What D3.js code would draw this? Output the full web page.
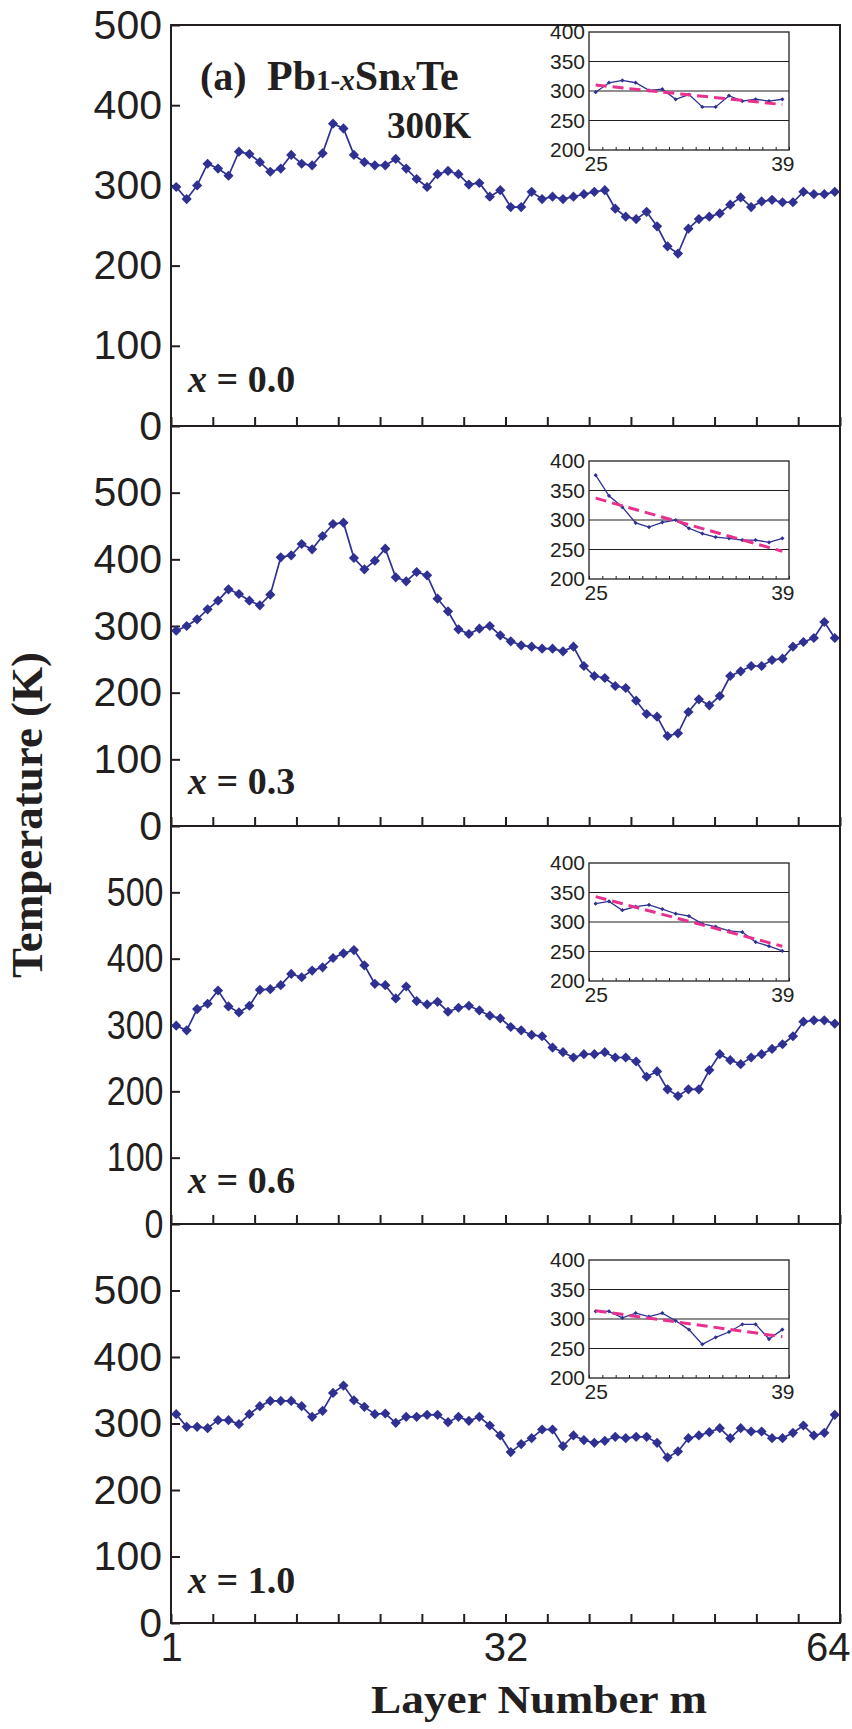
<!DOCTYPE html>
<html>
<head>
<meta charset="utf-8">
<script src="https://cdn.jsdelivr.net/npm/d3@7"></script>
<style>
  body { margin: 0; background: #fff; }
  svg { display: block; }
  .serif { font-family: "Liberation Serif", "Times New Roman", serif; font-weight: bold; fill: #231f20; }
  .sans { font-family: "Liberation Sans", Arial, sans-serif; fill: #231f20; }
</style>
</head>
<body>
<div id="chart"></div>
<script>
// layer numbers (categories) and temperatures
const layers = d3.range(1, 65);
const compositions = ["0.0", "0.3", "0.6", "1.0"];

const tempX00 = [298, 283, 300, 327, 321, 312, 342, 339, 329, 317,
                 321, 338, 327, 325, 340, 377, 371, 338, 329, 325,
                 325, 333, 321, 308, 298, 314, 318, 314, 301, 303,
                 286, 294, 273, 273, 292, 283, 286, 283, 286, 289,
                 292, 294, 271, 261, 258, 267, 249, 224, 215, 246,
                 258, 261, 265, 276, 285, 273, 280, 282, 279, 279,
                 292, 289, 289, 292];
const tempX03 = [293, 300, 310, 325, 338, 355, 348, 338, 331, 347,
                 403, 406, 423, 415, 435, 453, 455, 402, 385, 398,
                 416, 373, 367, 381, 376, 341, 322, 295, 288, 296,
                 300, 286, 277, 271, 269, 266, 266, 262, 269, 240,
                 225, 222, 210, 207, 188, 168, 164, 135, 139, 171,
                 190, 181, 195, 225, 232, 240, 240, 249, 251, 269,
                 276, 282, 306, 282];
const tempX06 = [299, 292, 324, 332, 352, 328, 319, 329, 353, 354,
                 360, 377, 372, 382, 387, 401, 408, 413, 390, 362,
                 360, 340, 358, 336, 331, 335, 320, 326, 329, 322,
                 314, 310, 297, 292, 285, 283, 266, 259, 251, 256,
                 256, 259, 251, 251, 245, 222, 230, 203, 193, 203,
                 203, 232, 256, 247, 241, 251, 256, 264, 271, 283,
                 305, 307, 307, 302];
const tempX10 = [314, 295, 295, 293, 305, 305, 299, 314, 326, 334,
                 334, 334, 326, 310, 319, 346, 357, 335, 325, 314,
                 315, 301, 310, 310, 313, 313, 302, 310, 304, 310,
                 297, 282, 257, 269, 278, 291, 291, 266, 282, 275,
                 271, 274, 280, 278, 280, 280, 271, 249, 258, 278,
                 282, 287, 293, 278, 293, 288, 288, 278, 278, 286,
                 297, 282, 286, 313];

// inset: layers 25-39 with linear trend (values at both ends)
const insetLayers = [25, 39];
const trendStart = [310, 337, 343, 314];
const trendEnd = [277, 247, 259, 270];

const yTicksMain = [0, 100, 200, 300, 400, 500];
const yTicksInset = [200, 250, 300, 350, 400];
const xTickLabels = ["1", "32", "64"];

const series = [tempX00, tempX03, tempX06, tempX10];

// layout
const width = 852, height = 1729;
const left = 171, right = 840;
const panelTop = [25, 426, 826, 1224];
const panelBottom = [426, 826, 1224, 1623];
const panelMax = [500, 600, 600, 600];
const insetTop = [32, 461, 863, 1260];
const insetLeft = 589, insetW = 200, insetH = 118;
const labelBase = [392, 794, 1193, 1593];
const labelStretch = [1, 1, 0.83, 1];
const navy = "#2e3192", pink = "#e8318e", ink = "#231f20";

const svg = d3.select("#chart").append("svg")
  .attr("width", width)
  .attr("height", height);

const x = d3.scaleLinear().domain([0.5, 64.5]).range([left, right]);
const ix = d3.scaleLinear().domain([insetLayers[0] - 0.5, insetLayers[1] + 0.5]).range([0, insetW]);
const iy = d3.scaleLinear().domain([200, 400]).range([insetH, 0]);

series.forEach((temps, p) => {
  const y = d3.scaleLinear().domain([0, panelMax[p]]).range([panelBottom[p], panelTop[p]]);
  const rows = layers.map((m, i) => ({m: m, t: temps[i]}));
  const g = svg.append("g");

  //y axis, ticks pointing inward
  const ya = g.append("g")
    .attr("transform", "translate(" + left + ",0)")
    .call(d3.axisLeft(y).tickValues(yTicksMain).tickSize(-9).tickPadding(9));
  ya.select(".domain").remove();
  ya.selectAll(".tick line").attr("stroke", ink).attr("stroke-width", 2);
  ya.selectAll(".tick text")
    .attr("class", "sans")
    .style("font-size", "41px")
    .attr("transform", "scale(" + labelStretch[p] + ",1)");

  //x ticks every 4 layers
  const xa = g.append("g")
    .attr("transform", "translate(0," + panelBottom[p] + ")")
    .call(d3.axisBottom(x).tickValues(d3.range(0.5, 65, 4)).tickSize(-9).tickFormat(""));
  xa.select(".domain").remove();
  xa.selectAll(".tick line").attr("stroke", ink).attr("stroke-width", 2);

  //frame
  g.append("rect")
    .attr("x", left).attr("y", panelTop[p])
    .attr("width", right - left).attr("height", panelBottom[p] - panelTop[p])
    .attr("fill", "none").attr("stroke", ink).attr("stroke-width", 2);

  //data
  g.append("path")
    .datum(rows)
    .attr("d", d3.line().x(d => x(d.m)).y(d => y(d.t)))
    .attr("fill", "none").attr("stroke", navy).attr("stroke-width", 1.7);
  g.selectAll(".pt").data(rows).enter().append("path")
    .attr("class", "pt")
    .attr("transform", d => "translate(" + x(d.m) + "," + y(d.t) + ") rotate(45)")
    .attr("d", d3.symbol(d3.symbolSquare, 52))
    .attr("fill", navy);

  //composition label
  const lab = g.append("text").attr("class", "serif")
    .attr("x", 188).attr("y", labelBase[p])
    .style("font-size", "38px");
  lab.append("tspan").style("font-style", "italic").text("x");
  lab.append("tspan").text(" = " + compositions[p]);

  //inset
  const ig = svg.append("g").attr("transform", "translate(" + insetLeft + "," + insetTop[p] + ")");
  const slice = rows.filter(d => d.m >= insetLayers[0] && d.m <= insetLayers[1]);

  ig.append("rect").attr("width", insetW).attr("height", insetH).attr("fill", "#fff");
  ig.selectAll(".grid").data([250, 300, 350]).enter().append("line")
    .attr("x1", 0).attr("x2", insetW)
    .attr("y1", d => iy(d)).attr("y2", d => iy(d))
    .attr("stroke", ink).attr("stroke-width", 1.2);

  const iya = ig.append("g").call(d3.axisLeft(iy).tickValues(yTicksInset).tickSize(0).tickPadding(4));
  iya.select(".domain").remove();
  iya.selectAll(".tick text").attr("class", "sans").style("font-size", "21px");

  const ixa = ig.append("g").attr("transform", "translate(0," + insetH + ")")
    .call(d3.axisBottom(ix).tickValues(d3.range(insetLayers[0] - 0.5, insetLayers[1] + 1, 1)).tickSize(-3).tickFormat(""));
  ixa.select(".domain").remove();
  ixa.selectAll(".tick line").attr("stroke", ink).attr("stroke-width", 1);

  const ixl = ig.append("g").attr("transform", "translate(0," + insetH + ")")
    .call(d3.axisBottom(ix).tickValues(insetLayers).tickSize(0).tickPadding(6).tickFormat(d3.format("d")));
  ixl.select(".domain").remove();
  ixl.selectAll(".tick text").attr("class", "sans").style("font-size", "21px");

  ig.append("rect").attr("width", insetW).attr("height", insetH)
    .attr("fill", "none").attr("stroke", ink).attr("stroke-width", 1.3);

  ig.append("path")
    .datum(slice)
    .attr("d", d3.line().x(d => ix(d.m)).y(d => iy(d.t)))
    .attr("fill", "none").attr("stroke", navy).attr("stroke-width", 1.3);
  ig.selectAll(".ipt").data(slice).enter().append("path")
    .attr("class", "ipt")
    .attr("transform", d => "translate(" + ix(d.m) + "," + iy(d.t) + ") rotate(45)")
    .attr("d", d3.symbol(d3.symbolSquare, 9))
    .attr("fill", navy);

  ig.append("line")
    .attr("x1", ix(insetLayers[0])).attr("y1", iy(trendStart[p]))
    .attr("x2", ix(insetLayers[1])).attr("y2", iy(trendEnd[p]))
    .attr("stroke", pink).attr("stroke-width", 3).attr("stroke-dasharray", "11,6");
});

//x tick labels under the last panel
const xl = svg.append("g")
  .attr("transform", "translate(0," + panelBottom[3] + ")")
  .call(d3.axisBottom(x).tickValues([0.5, 32.5, 64.5]).tickSize(0).tickPadding(10)
    .tickFormat((d, i) => xTickLabels[i]));
xl.select(".domain").remove();
xl.selectAll(".tick text").attr("class", "sans").style("font-size", "40px");
// keep the last label inside the page edge
xl.selectAll(".tick:last-of-type text")
  .attr("text-anchor", "end")
  .attr("x", width - 2 - right);

//titles
svg.append("text").attr("class", "serif")
  .attr("x", 200).attr("y", 90).style("font-size", "40px").text("(a)");

const formula = svg.append("text").attr("class", "serif")
  .attr("x", 267).attr("y", 90).style("font-size", "42px");
formula.append("tspan").text("Pb");
formula.append("tspan").style("font-size", "29px").text("1-");
formula.append("tspan").style("font-size", "29px").style("font-style", "italic").text("x");
formula.append("tspan").text("Sn");
formula.append("tspan").style("font-size", "29px").style("font-style", "italic").text("x");
formula.append("tspan").text("Te");

svg.append("text").attr("class", "serif")
  .attr("x", 387).attr("y", 138).style("font-size", "37px").text("300K");

svg.append("text").attr("class", "serif")
  .attr("transform", "translate(42,815) rotate(-90)")
  .attr("text-anchor", "middle")
  .style("font-size", "45px")
  .text("Temperature (K)");

svg.append("text").attr("class", "serif")
  .attr("x", 539).attr("y", 1713)
  .attr("text-anchor", "middle")
  .attr("textLength", 336).attr("lengthAdjust", "spacingAndGlyphs")
  .style("font-size", "40px")
  .text("Layer Number m");
</script>
</body>
</html>
